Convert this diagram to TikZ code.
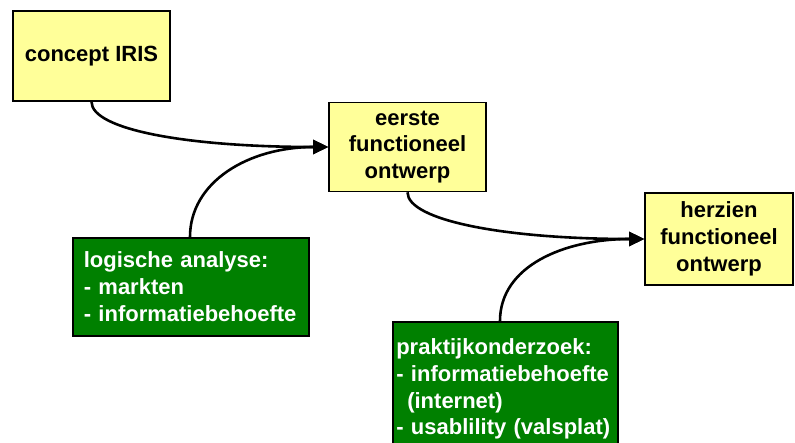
\documentclass[tikz,border=0pt]{standalone}
\usepackage{fontspec}
\setmainfont{Liberation Sans}
\usetikzlibrary{arrows.meta}
\definecolor{stapgeel}{HTML}{FFFF99}
\definecolor{brongroen}{HTML}{008000}
\begin{document}
\begin{tikzpicture}[x=1pt,y=-1pt,
  tekst/.style={font=\fontsize{22}{26.7}\selectfont\bfseries},
  stap/.style={tekst, draw=black, line width=1.6pt, fill=stapgeel,
    align=center, inner sep=0pt},
  bron/.style={tekst, draw=black, line width=1.6pt, fill=brongroen,
    text=white, align=left, anchor=north west},
  lijn/.style={line width=2.6pt},
  pijl/.style={lijn, -{Triangle[length=15pt,width=14pt]}}]
\useasboundingbox (0,0) rectangle (795,443);

% process steps
\node[stap, minimum width=157pt, minimum height=90pt] (iris) at (91.5,56) {concept IRIS};
\node[stap, minimum width=157pt, minimum height=89pt] (eerste) at (407.5,147)
  {eerste\\functioneel\\ontwerp};
\node[stap, minimum width=148pt, minimum height=92pt] (herzien) at (719,239)
  {herzien\\functioneel\\ontwerp};

% inputs
\node[bron, text width=214pt, inner xsep=11pt, inner ysep=9pt, minimum height=98pt] (logisch) at (72,237)
  {logische analyse:\\- markten\\- informatiebehoefte};
\node[bron, text width=218pt, inner xsep=3.5pt, inner ysep=17pt] (praktijk) at (392,321)
  {praktijkonderzoek:\\- informatiebehoefte\\\hphantom{-}\,(internet)\\- usablility (valsplat)};

% connectors
\draw[pijl] (iris.south) .. controls +(0,28) and +(-140,0) .. (eerste.west);
\draw[pijl] (logisch.north -| 190,0) .. controls +(0,-55) and +(-80,0) .. (eerste.west);
\draw[pijl] (eerste.south) .. controls +(0,28) and +(-140,0) .. (herzien.west);
\draw[pijl] (praktijk.north -| 500,0) .. controls +(0,-55) and +(-80,0) .. (herzien.west);
\end{tikzpicture}
\end{document}
